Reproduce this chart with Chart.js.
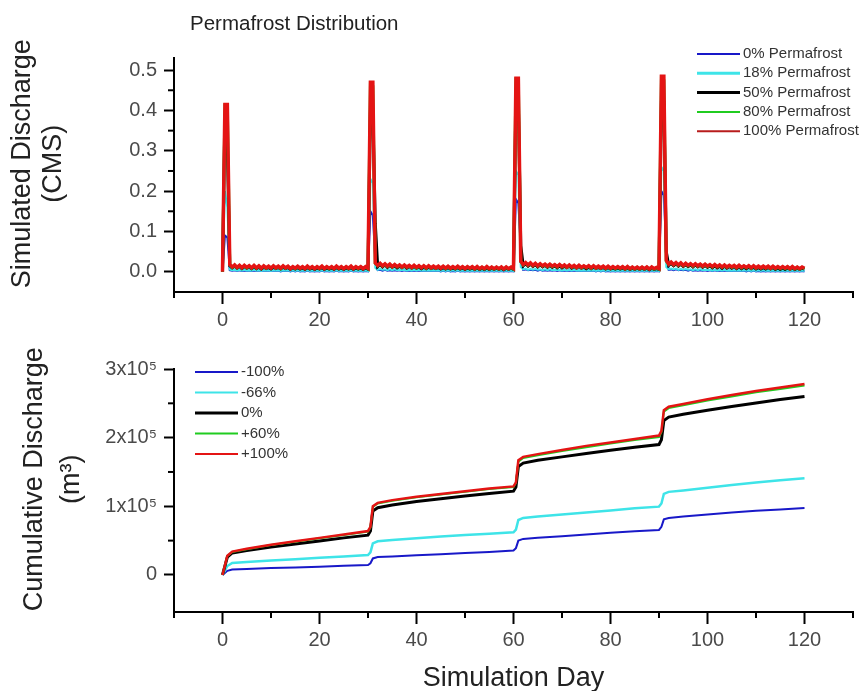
<!DOCTYPE html>
<html>
<head>
<meta charset="utf-8">
<script src="https://cdn.jsdelivr.net/npm/chart.js@4.4.1/dist/chart.umd.min.js"></script>
<style>
body { margin: 0; background: #fff; }
#topChart { position: absolute; left: 0; top: 0; }
#bottomChart { position: absolute; left: 0; top: 335px; }
</style>
</head>
<body>
<canvas id="topChart" width="862" height="335"></canvas>
<canvas id="bottomChart" width="862" height="356"></canvas>
<script>
var FONT = '"Liberation Sans", Arial, sans-serif';

// simulation time grid, half a day apart (0 .. 120)
var days = [];
for (var i = 0; i <= 240; i++) days.push(i / 2);

// simulated discharge (CMS), permafrost scenarios
var pf0 = [
	0, 0.090, 0.085, 0.004, 0.003, 0.004, 0.002, 0.004, 0.002, 0.003, 0.002, 0.003, 0.002, 0.003, 0.002, 0.003, 0.002, 0.003, 0.002, 0.003,
	0.002, 0.003, 0.002, 0.003, 0.001, 0.003, 0.002, 0.003, 0.001, 0.003, 0.001, 0.003, 0.001, 0.002, 0.001, 0.003, 0.001, 0.002, 0.001, 0.002,
	0.001, 0.003, 0.001, 0.002, 0.001, 0.002, 0.001, 0.003, 0.001, 0.002, 0.001, 0.002, 0.001, 0.003, 0.001, 0.002, 0.001, 0.002, 0.001, 0.002,
	0.001, 0.150, 0.140, 0.030, 0.004, 0.005, 0.003, 0.005, 0.003, 0.004, 0.003, 0.004, 0.003, 0.004, 0.002, 0.004, 0.002, 0.003, 0.002, 0.003,
	0.002, 0.003, 0.002, 0.003, 0.002, 0.003, 0.002, 0.003, 0.002, 0.003, 0.001, 0.003, 0.001, 0.003, 0.001, 0.002, 0.001, 0.003, 0.001, 0.002,
	0.001, 0.002, 0.001, 0.002, 0.001, 0.002, 0.001, 0.002, 0.001, 0.002, 0.001, 0.002, 0.001, 0.002, 0.001, 0.002, 0.001, 0.002, 0.001, 0.002,
	0.001, 0.180, 0.170, 0.060, 0.005, 0.006, 0.004, 0.005, 0.004, 0.005, 0.003, 0.005, 0.003, 0.004, 0.003, 0.004, 0.003, 0.004, 0.002, 0.004,
	0.002, 0.003, 0.002, 0.003, 0.002, 0.003, 0.002, 0.003, 0.002, 0.003, 0.002, 0.003, 0.002, 0.003, 0.001, 0.003, 0.001, 0.003, 0.001, 0.002,
	0.001, 0.002, 0.001, 0.002, 0.001, 0.002, 0.001, 0.002, 0.001, 0.002, 0.001, 0.002, 0.001, 0.002, 0.001, 0.002, 0.001, 0.002, 0.001, 0.002,
	0.001, 0.200, 0.190, 0.050, 0.005, 0.006, 0.004, 0.006, 0.004, 0.005, 0.004, 0.005, 0.003, 0.005, 0.003, 0.004, 0.003, 0.004, 0.003, 0.004,
	0.002, 0.004, 0.002, 0.004, 0.002, 0.003, 0.002, 0.003, 0.002, 0.003, 0.002, 0.003, 0.002, 0.003, 0.002, 0.003, 0.001, 0.003, 0.001, 0.003,
	0.001, 0.002, 0.001, 0.002, 0.001, 0.002, 0.001, 0.002, 0.001, 0.002, 0.001, 0.002, 0.001, 0.002, 0.001, 0.002, 0.001, 0.002, 0.001, 0.002,
	0.001
];
var pf18 = [
	0, 0.200, 0.160, 0.006, 0.004, 0.005, 0.003, 0.005, 0.003, 0.005, 0.003, 0.004, 0.003, 0.005, 0.003, 0.004, 0.002, 0.004, 0.003, 0.004,
	0.002, 0.004, 0.003, 0.004, 0.002, 0.004, 0.003, 0.004, 0.002, 0.004, 0.002, 0.004, 0.002, 0.003, 0.002, 0.004, 0.002, 0.003, 0.002, 0.003,
	0.002, 0.004, 0.002, 0.003, 0.002, 0.003, 0.002, 0.004, 0.002, 0.003, 0.002, 0.003, 0.002, 0.004, 0.002, 0.003, 0.002, 0.003, 0.002, 0.003,
	0.002, 0.230, 0.220, 0.010, 0.005, 0.007, 0.005, 0.006, 0.004, 0.006, 0.004, 0.006, 0.004, 0.005, 0.004, 0.005, 0.003, 0.005, 0.003, 0.005,
	0.003, 0.005, 0.003, 0.004, 0.003, 0.004, 0.003, 0.004, 0.003, 0.004, 0.002, 0.004, 0.002, 0.004, 0.002, 0.004, 0.002, 0.004, 0.002, 0.003,
	0.002, 0.003, 0.002, 0.003, 0.002, 0.003, 0.002, 0.003, 0.002, 0.003, 0.002, 0.003, 0.002, 0.003, 0.002, 0.003, 0.002, 0.003, 0.002, 0.003,
	0.002, 0.250, 0.240, 0.012, 0.006, 0.008, 0.005, 0.007, 0.005, 0.007, 0.005, 0.006, 0.004, 0.006, 0.004, 0.006, 0.004, 0.005, 0.004, 0.005,
	0.003, 0.005, 0.003, 0.005, 0.003, 0.005, 0.003, 0.004, 0.003, 0.004, 0.003, 0.004, 0.003, 0.004, 0.002, 0.004, 0.002, 0.004, 0.002, 0.004,
	0.002, 0.003, 0.002, 0.003, 0.002, 0.003, 0.002, 0.003, 0.002, 0.003, 0.002, 0.003, 0.002, 0.003, 0.002, 0.003, 0.002, 0.003, 0.002, 0.003,
	0.002, 0.260, 0.250, 0.012, 0.006, 0.008, 0.006, 0.008, 0.005, 0.007, 0.005, 0.007, 0.005, 0.006, 0.004, 0.006, 0.004, 0.006, 0.004, 0.005,
	0.004, 0.005, 0.003, 0.005, 0.003, 0.005, 0.003, 0.005, 0.003, 0.004, 0.003, 0.004, 0.003, 0.004, 0.003, 0.004, 0.003, 0.004, 0.002, 0.004,
	0.002, 0.004, 0.002, 0.004, 0.002, 0.003, 0.002, 0.003, 0.002, 0.003, 0.002, 0.003, 0.002, 0.003, 0.002, 0.003, 0.002, 0.003, 0.002, 0.003,
	0.002
];
var pf50 = [
	0, 0.385, 0.310, 0.015, 0.010, 0.014, 0.009, 0.013, 0.008, 0.013, 0.009, 0.012, 0.008, 0.013, 0.008, 0.012, 0.007, 0.012, 0.008, 0.011,
	0.007, 0.012, 0.008, 0.011, 0.007, 0.012, 0.008, 0.011, 0.006, 0.011, 0.007, 0.011, 0.007, 0.010, 0.006, 0.011, 0.007, 0.010, 0.006, 0.010,
	0.007, 0.011, 0.006, 0.010, 0.007, 0.010, 0.006, 0.011, 0.007, 0.010, 0.006, 0.010, 0.007, 0.011, 0.006, 0.010, 0.007, 0.010, 0.006, 0.010,
	0.007, 0.395, 0.390, 0.120, 0.013, 0.018, 0.012, 0.017, 0.011, 0.016, 0.011, 0.015, 0.010, 0.014, 0.010, 0.014, 0.009, 0.013, 0.009, 0.013,
	0.009, 0.012, 0.008, 0.012, 0.008, 0.012, 0.008, 0.011, 0.008, 0.011, 0.007, 0.011, 0.007, 0.011, 0.007, 0.010, 0.007, 0.011, 0.007, 0.010,
	0.006, 0.010, 0.007, 0.010, 0.006, 0.010, 0.006, 0.009, 0.006, 0.010, 0.006, 0.009, 0.006, 0.009, 0.006, 0.009, 0.005, 0.009, 0.006, 0.009,
	0.006, 0.430, 0.420, 0.065, 0.015, 0.020, 0.014, 0.019, 0.013, 0.018, 0.012, 0.017, 0.012, 0.016, 0.011, 0.016, 0.011, 0.015, 0.010, 0.015,
	0.010, 0.014, 0.010, 0.014, 0.009, 0.013, 0.009, 0.013, 0.009, 0.012, 0.008, 0.012, 0.008, 0.012, 0.008, 0.011, 0.008, 0.011, 0.007, 0.011,
	0.007, 0.010, 0.007, 0.010, 0.007, 0.010, 0.006, 0.010, 0.006, 0.009, 0.006, 0.009, 0.006, 0.009, 0.006, 0.009, 0.005, 0.009, 0.006, 0.008,
	0.006, 0.420, 0.420, 0.050, 0.016, 0.021, 0.015, 0.020, 0.014, 0.019, 0.013, 0.018, 0.013, 0.017, 0.012, 0.017, 0.012, 0.016, 0.011, 0.016,
	0.011, 0.015, 0.010, 0.015, 0.010, 0.014, 0.009, 0.014, 0.009, 0.013, 0.009, 0.013, 0.008, 0.013, 0.008, 0.012, 0.008, 0.012, 0.008, 0.012,
	0.007, 0.011, 0.007, 0.011, 0.007, 0.011, 0.007, 0.011, 0.006, 0.010, 0.006, 0.010, 0.006, 0.010, 0.006, 0.010, 0.006, 0.009, 0.006, 0.009,
	0.007
];
var pf80 = [
	0, 0.410, 0.405, 0.017, 0.011, 0.016, 0.010, 0.015, 0.010, 0.015, 0.010, 0.014, 0.009, 0.015, 0.009, 0.014, 0.009, 0.014, 0.009, 0.013,
	0.009, 0.014, 0.009, 0.013, 0.008, 0.014, 0.009, 0.013, 0.008, 0.012, 0.008, 0.013, 0.008, 0.012, 0.008, 0.013, 0.008, 0.012, 0.008, 0.012,
	0.008, 0.013, 0.008, 0.012, 0.008, 0.012, 0.008, 0.013, 0.008, 0.012, 0.008, 0.012, 0.008, 0.013, 0.008, 0.012, 0.008, 0.012, 0.008, 0.012,
	0.008, 0.465, 0.460, 0.021, 0.015, 0.020, 0.014, 0.019, 0.013, 0.018, 0.012, 0.017, 0.012, 0.016, 0.011, 0.016, 0.011, 0.015, 0.010, 0.015,
	0.010, 0.014, 0.010, 0.014, 0.009, 0.014, 0.009, 0.013, 0.009, 0.013, 0.009, 0.013, 0.008, 0.013, 0.008, 0.012, 0.008, 0.013, 0.008, 0.012,
	0.008, 0.012, 0.008, 0.012, 0.007, 0.012, 0.007, 0.011, 0.007, 0.012, 0.007, 0.011, 0.007, 0.011, 0.007, 0.011, 0.007, 0.011, 0.007, 0.011,
	0.007, 0.475, 0.470, 0.025, 0.017, 0.022, 0.016, 0.021, 0.015, 0.020, 0.014, 0.019, 0.014, 0.018, 0.013, 0.018, 0.013, 0.017, 0.012, 0.017,
	0.012, 0.016, 0.011, 0.016, 0.011, 0.015, 0.010, 0.015, 0.010, 0.014, 0.010, 0.014, 0.009, 0.014, 0.009, 0.013, 0.009, 0.013, 0.008, 0.013,
	0.008, 0.012, 0.008, 0.012, 0.008, 0.012, 0.007, 0.012, 0.007, 0.011, 0.007, 0.011, 0.007, 0.011, 0.007, 0.011, 0.007, 0.011, 0.007, 0.010,
	0.007, 0.480, 0.475, 0.027, 0.018, 0.023, 0.017, 0.022, 0.016, 0.021, 0.015, 0.020, 0.015, 0.019, 0.014, 0.019, 0.014, 0.018, 0.013, 0.018,
	0.013, 0.017, 0.012, 0.017, 0.012, 0.016, 0.011, 0.016, 0.011, 0.015, 0.011, 0.015, 0.010, 0.015, 0.010, 0.014, 0.010, 0.014, 0.009, 0.014,
	0.009, 0.013, 0.009, 0.013, 0.009, 0.013, 0.008, 0.013, 0.008, 0.012, 0.008, 0.012, 0.008, 0.012, 0.007, 0.012, 0.007, 0.011, 0.007, 0.011,
	0.008
];
var pf100 = [
	0, 0.415, 0.415, 0.018, 0.012, 0.017, 0.011, 0.016, 0.010, 0.016, 0.011, 0.015, 0.010, 0.016, 0.010, 0.015, 0.009, 0.015, 0.010, 0.014,
	0.009, 0.015, 0.010, 0.014, 0.009, 0.015, 0.010, 0.014, 0.008, 0.013, 0.009, 0.014, 0.009, 0.013, 0.008, 0.014, 0.009, 0.013, 0.008, 0.013,
	0.009, 0.014, 0.008, 0.013, 0.009, 0.013, 0.008, 0.014, 0.009, 0.013, 0.008, 0.013, 0.009, 0.014, 0.008, 0.013, 0.009, 0.013, 0.008, 0.013,
	0.009, 0.470, 0.470, 0.022, 0.016, 0.021, 0.015, 0.020, 0.014, 0.019, 0.013, 0.018, 0.013, 0.017, 0.012, 0.017, 0.012, 0.016, 0.011, 0.016,
	0.011, 0.015, 0.010, 0.015, 0.010, 0.015, 0.010, 0.014, 0.010, 0.014, 0.009, 0.014, 0.009, 0.014, 0.009, 0.013, 0.009, 0.014, 0.009, 0.013,
	0.008, 0.013, 0.009, 0.013, 0.008, 0.013, 0.008, 0.012, 0.008, 0.013, 0.008, 0.012, 0.008, 0.012, 0.008, 0.012, 0.007, 0.012, 0.008, 0.012,
	0.008, 0.480, 0.480, 0.026, 0.018, 0.023, 0.017, 0.022, 0.016, 0.021, 0.015, 0.020, 0.015, 0.019, 0.014, 0.019, 0.014, 0.018, 0.013, 0.018,
	0.013, 0.017, 0.012, 0.017, 0.012, 0.016, 0.011, 0.016, 0.011, 0.015, 0.011, 0.015, 0.010, 0.015, 0.010, 0.014, 0.010, 0.014, 0.009, 0.014,
	0.009, 0.013, 0.009, 0.013, 0.009, 0.013, 0.008, 0.013, 0.008, 0.012, 0.008, 0.012, 0.008, 0.012, 0.008, 0.012, 0.007, 0.012, 0.008, 0.011,
	0.008, 0.485, 0.485, 0.028, 0.019, 0.024, 0.018, 0.023, 0.017, 0.022, 0.016, 0.021, 0.016, 0.020, 0.015, 0.020, 0.015, 0.019, 0.014, 0.019,
	0.014, 0.018, 0.013, 0.018, 0.013, 0.017, 0.012, 0.017, 0.012, 0.016, 0.012, 0.016, 0.011, 0.016, 0.011, 0.015, 0.011, 0.015, 0.010, 0.015,
	0.010, 0.014, 0.010, 0.014, 0.010, 0.014, 0.009, 0.014, 0.009, 0.013, 0.009, 0.013, 0.009, 0.013, 0.008, 0.013, 0.008, 0.012, 0.008, 0.012,
	0.009
];

// cumulative discharge (m3), change scenarios
var cumDays = [0, 1, 2, 5, 10, 15, 20, 25, 30, 30.5, 31, 32, 35, 40, 45, 50, 55, 60, 60.5, 61, 62, 65, 70, 75, 80, 85, 90, 90.5, 91, 92, 95, 100, 105, 110, 115, 120];
var cumM100 = [0, 6000, 8000, 8800, 10000, 11000, 12000, 13200, 14500, 17000, 24000, 26000, 27000, 28500, 30000, 32000, 33500, 35500, 39000, 50000, 52500, 54000, 56500, 59000, 61500, 63500, 65500, 70000, 81000, 83000, 85000, 88000, 91000, 93500, 95500, 97500];
var cumM66 = [0, 13000, 17500, 19000, 21000, 23000, 25000, 27000, 29000, 33000, 46000, 49000, 51000, 53500, 56000, 58000, 60000, 62000, 66000, 80000, 83000, 85000, 88000, 91000, 94000, 97000, 99500, 104000, 118000, 121000, 123000, 127000, 131000, 134500, 138000, 141000];
var cum0 = [0, 26000, 32000, 35500, 40500, 45000, 49500, 54000, 58000, 64000, 93000, 98000, 102000, 107000, 111000, 115000, 118500, 122000, 128000, 158000, 163000, 167000, 172000, 177000, 181500, 186000, 190000, 197000, 225000, 230000, 234000, 240000, 245500, 250500, 255500, 260000];
var cumP60 = [0, 27500, 33500, 37500, 43500, 48500, 53500, 58000, 63000, 69000, 99000, 104000, 108000, 113000, 117000, 121000, 125000, 128000, 134000, 165000, 170500, 174500, 180500, 186000, 191500, 196500, 201000, 208000, 238000, 243000, 247000, 254000, 260000, 266000, 271000, 276000];
var cumP100 = [0, 28000, 34000, 38000, 44000, 49000, 54000, 59000, 64000, 70000, 100000, 105000, 109000, 114000, 118000, 122000, 126000, 129000, 135000, 167000, 172000, 176000, 182000, 188000, 193000, 198000, 203000, 210000, 240000, 245000, 249000, 256000, 262000, 268000, 273000, 278000];

// axis ticks
var xTicks = [0, 20, 40, 60, 80, 100, 120];
var xMinor = [-10, 10, 30, 50, 70, 90, 110, 130];
var qTicks = [0, 0.1, 0.2, 0.3, 0.4, 0.5];
var qMinor = [0.05, 0.15, 0.25, 0.35, 0.45];
var cumTicks = [0, 100000, 200000, 300000];
var cumMinor = [50000, 150000, 250000];

var BLUE = '#1818c8', CYAN = '#3ee4e8', BLACK = '#000000', GREEN = '#20cc20', RED = '#e41414';

function pts(xs, ys) {
	return ys.map(function(v, i) { return { x: xs[i], y: v }; });
}

function line(label, xs, ys, color, width, order) {
	return {
		label: label, data: pts(xs, ys), borderColor: color, backgroundColor: color,
		borderWidth: width, pointRadius: 0, tension: 0, fill: false, order: order
	};
}

// minor ticks, legend box and caption, drawn over the chart
var overlay = {
	id: 'overlay',
	afterDraw: function(chart, args, o) {
		var ctx = chart.ctx, xs = chart.scales.x, ys = chart.scales.y;
		ctx.save();
		ctx.strokeStyle = '#000';
		ctx.lineWidth = 2;
		xMinor.forEach(function(v) {
			var px = xs.getPixelForValue(v);
			ctx.beginPath(); ctx.moveTo(px, xs.top); ctx.lineTo(px, xs.top + 6); ctx.stroke();
		});
		o.yMinor.forEach(function(v) {
			var py = ys.getPixelForValue(v);
			ctx.beginPath(); ctx.moveTo(ys.right, py); ctx.lineTo(ys.right - 6, py); ctx.stroke();
		});
		ctx.font = '15px ' + FONT;
		ctx.textBaseline = 'middle';
		o.legend.forEach(function(it, i) {
			var y = o.legendY + i * o.legendGap;
			ctx.strokeStyle = it.color;
			ctx.lineWidth = it.width;
			ctx.beginPath(); ctx.moveTo(o.legendX, y); ctx.lineTo(o.legendX + 43, y); ctx.stroke();
			ctx.fillStyle = '#333';
			ctx.fillText(it.label, o.legendX + 46, y);
		});
		if (o.caption) {
			ctx.font = '20.5px ' + FONT;
			ctx.fillStyle = '#222';
			ctx.fillText(o.caption, 190, 24);
		}
		ctx.restore();
	}
};

function xAxis(height, title) {
	return {
		type: 'linear', min: -10, max: 130,
		afterBuildTicks: function(s) { s.ticks = xTicks.map(function(v) { return { value: v }; }); },
		afterFit: function(s) { s.height = height; },
		grid: { drawOnChartArea: false, tickLength: 12, tickWidth: 2, tickColor: '#000' },
		border: { color: '#000', width: 2 },
		ticks: { autoSkip: false, maxRotation: 0, padding: 4, color: '#4a4a4a', font: { size: 20, family: FONT } },
		title: title || { display: false }
	};
}

function yAxis(min, max, ticks, fmt, title) {
	return {
		type: 'linear', min: min, max: max,
		afterBuildTicks: function(s) { s.ticks = ticks.map(function(v) { return { value: v }; }); },
		afterFit: function(s) { s.width = 174; },
		grid: { drawOnChartArea: false, tickLength: 10, tickWidth: 2, tickColor: '#000' },
		border: { color: '#000', width: 2 },
		ticks: { autoSkip: false, padding: 7, color: '#4a4a4a', font: { size: 20, family: FONT }, callback: fmt },
		title: title
	};
}

new Chart(document.getElementById('topChart').getContext('2d'), {
	type: 'line',
	data: {
		datasets: [
			line('0% Permafrost', days, pf0, BLUE, 2, 4),
			line('18% Permafrost', days, pf18, CYAN, 2, 3),
			line('50% Permafrost', days, pf50, BLACK, 3, 2),
			line('80% Permafrost', days, pf80, GREEN, 3, 1),
			line('100% Permafrost', days, pf100, RED, 3.5, 0)
		]
	},
	options: {
		responsive: false,
		animation: false,
		layout: { padding: { top: 58, right: 9, left: 0, bottom: 0 } },
		plugins: {
			legend: { display: false },
			tooltip: { enabled: false },
			overlay: {
				yMinor: qMinor, legendX: 697, legendY: 54, legendGap: 19.3, caption: 'Permafrost Distribution',
				legend: [
					{ label: '0% Permafrost', color: BLUE, width: 2 },
					{ label: '18% Permafrost', color: CYAN, width: 3 },
					{ label: '50% Permafrost', color: BLACK, width: 3 },
					{ label: '80% Permafrost', color: GREEN, width: 2 },
					{ label: '100% Permafrost', color: '#b81c1c', width: 2 }
				]
			}
		},
		scales: {
			x: xAxis(43),
			y: yAxis(-0.05, 0.53, qTicks, function(v) { return v.toFixed(1); }, {
				display: true, text: ['   Simulated Discharge', '   (CMS)'], color: '#222',
				font: { size: 27, family: FONT, lineHeight: 1.15 }, padding: { top: 7, bottom: 0 }
			})
		}
	},
	plugins: [overlay]
});

new Chart(document.getElementById('bottomChart').getContext('2d'), {
	type: 'line',
	data: {
		datasets: [
			line('-100%', cumDays, cumM100, BLUE, 2, 4),
			line('-66%', cumDays, cumM66, CYAN, 2.5, 3),
			line('0%', cumDays, cum0, BLACK, 3, 2),
			line('+60%', cumDays, cumP60, GREEN, 2, 1),
			line('+100%', cumDays, cumP100, RED, 2.5, 0)
		]
	},
	options: {
		responsive: false,
		animation: false,
		layout: { padding: { top: 34, right: 9, left: 0, bottom: 0 } },
		plugins: {
			legend: { display: false },
			tooltip: { enabled: false },
			overlay: {
				yMinor: cumMinor, legendX: 195, legendY: 37, legendGap: 20.5,
				legend: [
					{ label: '-100%', color: BLUE, width: 2 },
					{ label: '-66%', color: CYAN, width: 2 },
					{ label: '0%', color: BLACK, width: 3 },
					{ label: '+60%', color: GREEN, width: 2 },
					{ label: '+100%', color: RED, width: 2 }
				]
			}
		},
		scales: {
			x: xAxis(79, {
				display: true, text: 'Simulation Day', color: '#222',
				font: { size: 27, family: FONT, lineHeight: 0.9 }, padding: { top: 0, bottom: 0 }
			}),
			y: yAxis(-54000, 300000, cumTicks, function(v) { return v === 0 ? '0' : (v / 100000) + 'x10\u2075'; }, {
				display: true, text: ['   Cumulative Discharge', '   (m\u00b3)'], color: '#222',
				font: { size: 27, family: FONT, lineHeight: 1.37 }, padding: { top: 16, bottom: 0 }
			})
		}
	},
	plugins: [overlay]
});
</script>
</body>
</html>
